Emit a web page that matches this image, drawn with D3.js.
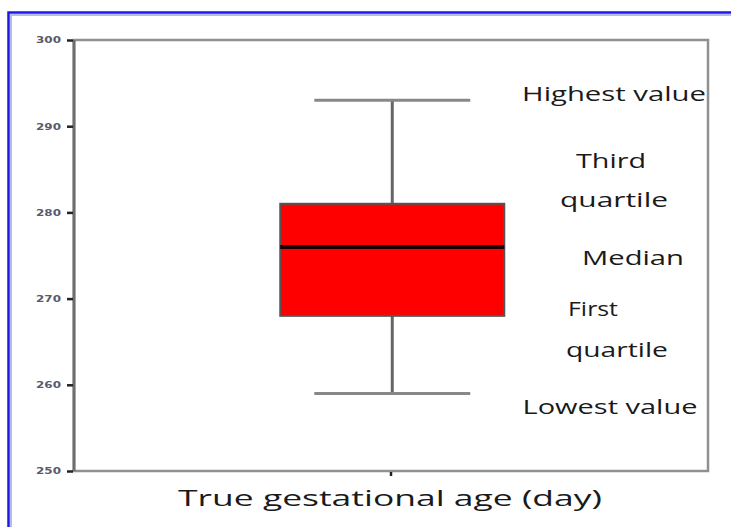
<!DOCTYPE html>
<html lang="en">
<head>
<meta charset="UTF-8">
<title>True gestational age box plot</title>
<script src="https://d3js.org/d3.v7.min.js"></script>
<style>
  body { margin: 0; background: #fff; }
  svg { display: block; }
</style>
</head>
<body>
<div id="chart"></div>
<script>
// data
var category = ["True gestational age (day)"];
var stats = { low: 259, q1: 268, median: 276, q3: 281, high: 293 };
var yTicks = [250, 260, 270, 280, 290, 300];
// annotation lines, placed in data units (value of the baseline)
var noteText = ["Highest value", "Third", "quartile", "Median", "First", "quartile", "Lowest value"];
var noteAt = [292.9, 285.2, 280.6, 273.9, 268.0, 263.2, 256.6];

// layout for annotations: centre x and drawn width (the source image is stretched sideways)
var noteCx = [614, 611, 614, 633, 593, 617, 610];
var noteW = [184, 70, 108, 102, 50, 102, 175];

var W = 731, H = 527;
var svg = d3.select("#chart").append("svg")
    .attr("width", W).attr("height", H);

// blue frame round the figure (cut off on right/bottom)
svg.append("path")
    .attr("d", "M8.5," + H + "V12.5H" + W)
    .attr("fill", "none")
    .attr("stroke", "#1a1adf")
    .attr("stroke-width", 2.5);
svg.append("path")
    .attr("d", "M11," + H + "V15H" + W)
    .attr("fill", "none")
    .attr("stroke", "#b8b8f4")
    .attr("stroke-width", 2);

var plotL = 74, plotR = 708, plotT = 40, plotB = 471;

var y = d3.scaleLinear().domain([250, 300]).range([plotB, plotT]);
var x = d3.scaleBand().domain(category).range([plotL, plotR]);
var cx = x(category[0]) + x.bandwidth() * 0.502;

// stretch a text sideways so it spans the wanted width
function stretch(sel, cxPos, base, width) {
    var len = sel.node().getComputedTextLength();
    sel.attr("x", 0).attr("y", 0)
        .attr("text-anchor", "middle")
        .attr("transform", "translate(" + cxPos + "," + base + ") scale(" + (width / len) + ",1)");
}

// plot frame
svg.append("rect")
    .attr("x", plotL).attr("y", plotT)
    .attr("width", plotR - plotL).attr("height", plotB - plotT)
    .attr("fill", "none")
    .attr("stroke", "#909090")
    .attr("stroke-width", 2.5);
svg.append("line")
    .attr("x1", plotL).attr("x2", plotL)
    .attr("y1", plotT).attr("y2", plotB)
    .attr("stroke", "#6e6e6e").attr("stroke-width", 3);

// y axis ticks
var yAxis = svg.append("g")
    .attr("transform", "translate(" + (plotL - 1) + ",0)")
    .call(d3.axisLeft(y).tickValues(yTicks).tickSize(6).tickPadding(5));
yAxis.select(".domain").remove();
yAxis.selectAll(".tick line").attr("stroke", "#222").attr("stroke-width", 2.5);
yAxis.selectAll(".tick text")
    .attr("fill", "#5a5a6a")
    .style("font-family", "'DejaVu Sans', sans-serif")
    .style("font-size", "9px")
    .style("font-weight", "bold")
    .each(function () {
        stretch(d3.select(this), -24.5, 0, 25);
    });

// x axis tick
var xAxis = svg.append("g")
    .attr("transform", "translate(0," + (plotB + 1) + ")")
    .call(d3.axisBottom(x).tickSize(4).tickFormat(""));
xAxis.select(".domain").remove();
xAxis.selectAll(".tick line").attr("stroke", "#222").attr("stroke-width", 2.5);

var xLabel = svg.append("text")
    .attr("fill", "#1a1a1a")
    .style("font-family", "'Open Sans', sans-serif")
    .style("font-size", "22px")
    .text(category[0]);
stretch(xLabel, 390, 506, 424);

// box plot
var boxW = 224, capW = 156;
var g = svg.append("g").attr("class", "box");

g.append("line")
    .attr("x1", cx).attr("x2", cx)
    .attr("y1", y(stats.high)).attr("y2", y(stats.low))
    .attr("stroke", "#666").attr("stroke-width", 3);

[stats.high, stats.low].forEach(function (v) {
    g.append("line")
        .attr("x1", cx - capW / 2).attr("x2", cx + capW / 2)
        .attr("y1", y(v)).attr("y2", y(v))
        .attr("stroke", "#888").attr("stroke-width", 3);
});

g.append("rect")
    .attr("x", cx - boxW / 2).attr("y", y(stats.q3))
    .attr("width", boxW).attr("height", y(stats.q1) - y(stats.q3))
    .attr("fill", "#ff0000")
    .attr("stroke", "#555").attr("stroke-width", 2);

g.append("line")
    .attr("x1", cx - boxW / 2).attr("x2", cx + boxW / 2)
    .attr("y1", y(stats.median)).attr("y2", y(stats.median))
    .attr("stroke", "#1a0000").attr("stroke-width", 4);

// annotations
noteText.forEach(function (s, i) {
    var t = svg.append("text")
        .attr("fill", "#1a1a1a")
        .style("font-family", "'Open Sans', sans-serif")
        .style("font-size", "20px")
        .text(s);
    stretch(t, noteCx[i], y(noteAt[i]), noteW[i]);
});
</script>
</body>
</html>
